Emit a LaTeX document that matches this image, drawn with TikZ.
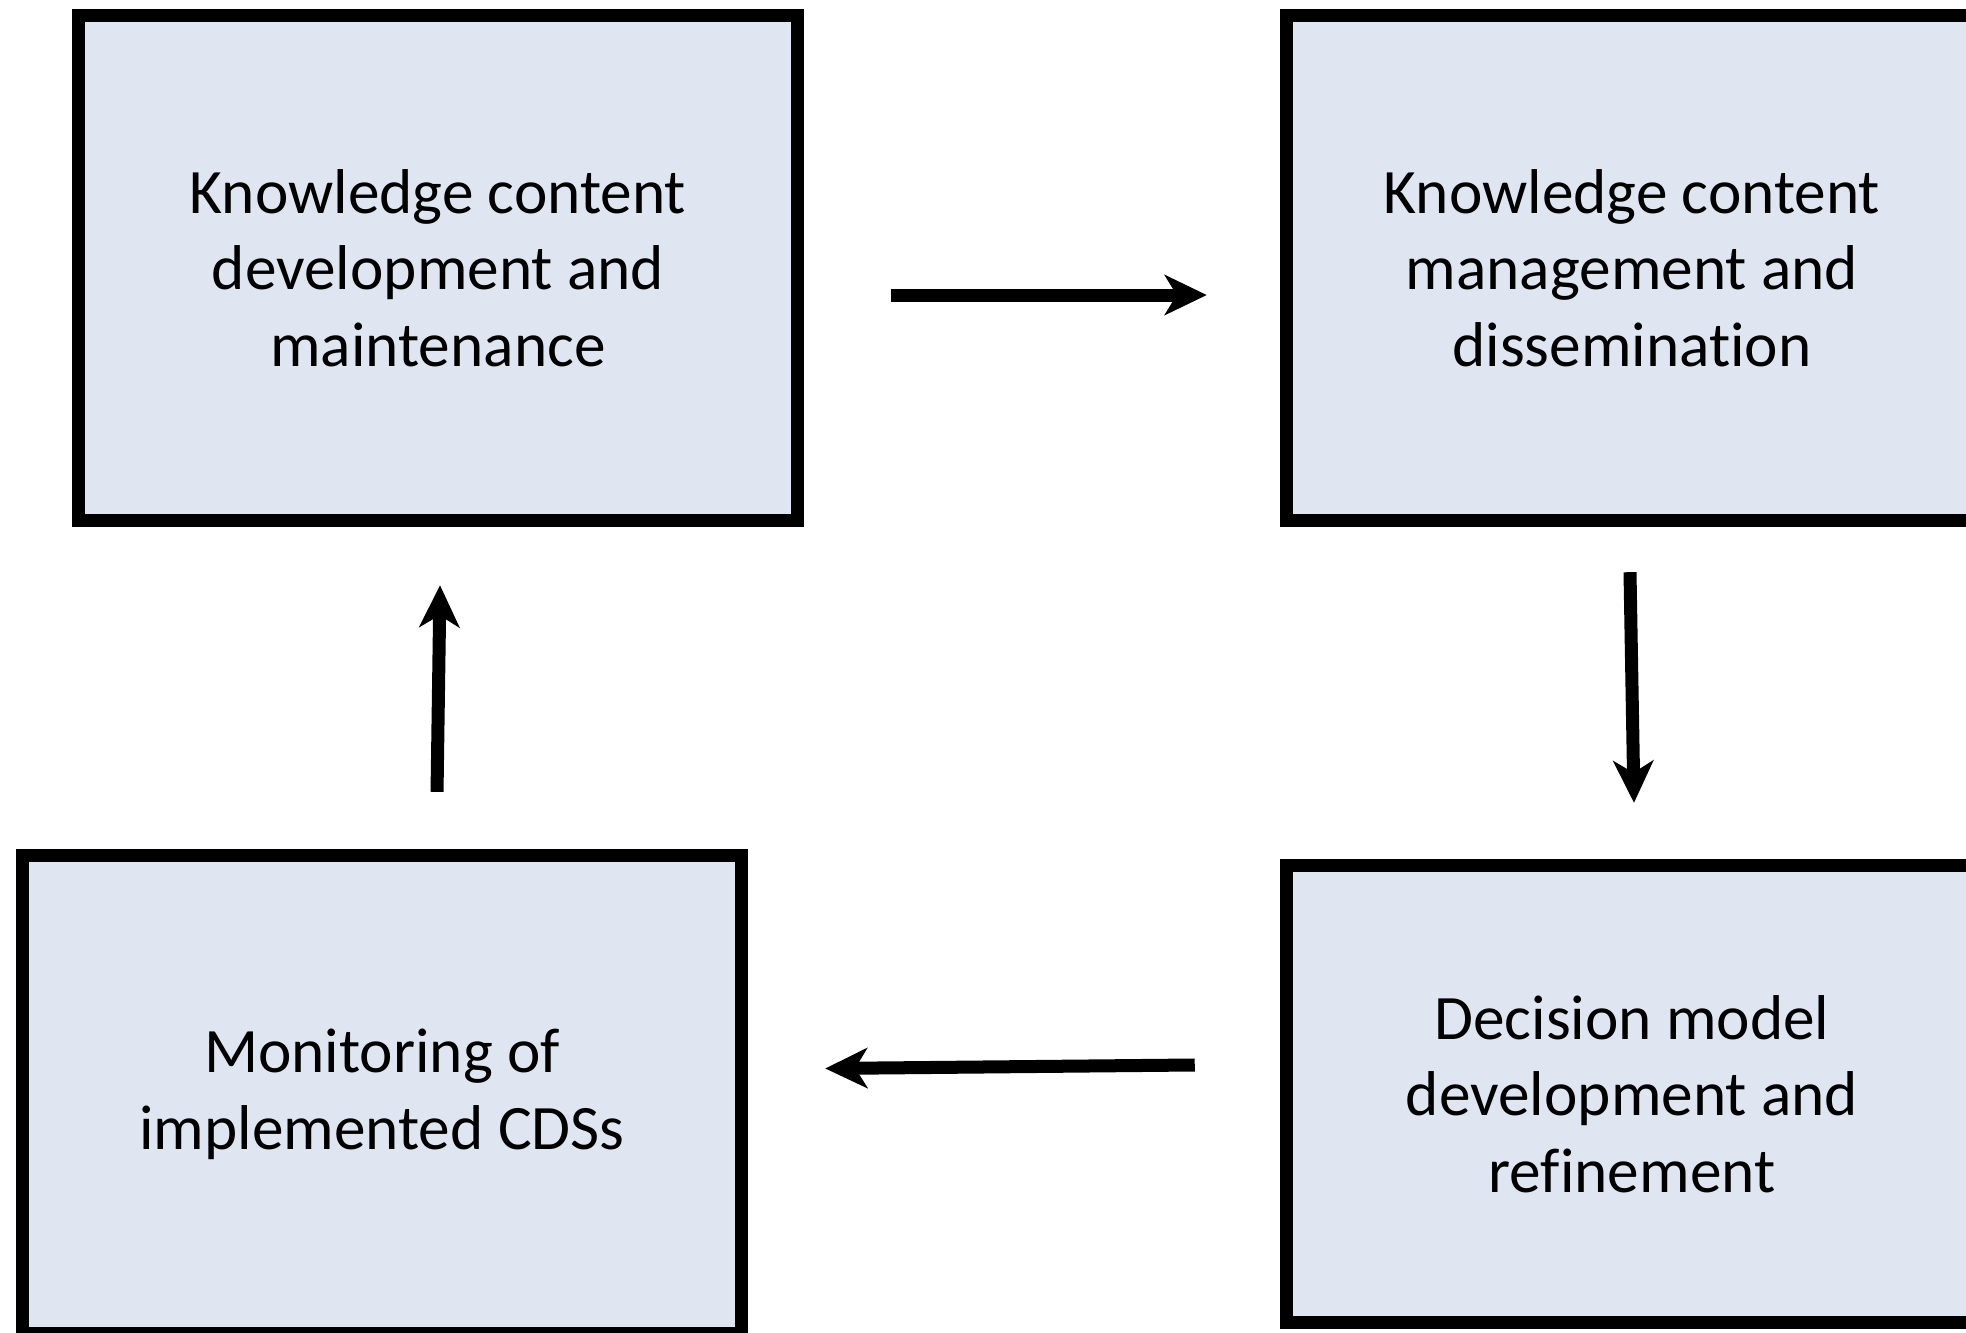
\documentclass[tikz,border=0pt]{standalone}
\usepackage{fontspec}
\setmainfont{Carlito}[Ligatures=NoCommon]
\usetikzlibrary{arrows.meta,positioning}
\definecolor{boxfill}{RGB}{223,230,241}
\tikzset{
	box/.style={draw,rectangle,align=center,fill=boxfill,line width=0.13cm,
		font=\fontsize{18}{21.8}\selectfont},
	flow/.style={line width=0.13cm,-{Stealth[length=0.42cm,width=0.40cm,inset=0.12cm]}}
}
\begin{document}
\begin{tikzpicture}[x=0.01cm,y=-0.01cm]
			\useasboundingbox (0,0) rectangle (1966,1333);
			\node[box,minimum width=7.19cm,minimum height=5.05cm] (dev) at (438,268) {Knowledge content\\development and\\maintenance};
			\node[box,minimum width=6.91cm,minimum height=5.05cm] (man) at (1632,268) {Knowledge content\\management and\\dissemination};
			\node[box,minimum width=6.91cm,minimum height=4.57cm] (dec) at (1632,1094) {Decision model\\development and\\refinement};
			\node[box,minimum width=7.19cm,minimum height=4.78cm] (mon) at (382,1094.5) {Monitoring of\\implemented CDSs};
			
			\draw[flow] ([xshift=0.87cm,yshift=-0.27cm]dev.east) -- ([xshift=-0.73cm,yshift=-0.27cm]man.west);
			\draw[flow] ([xshift=-0.02cm,yshift=-0.45cm]man.south) -- ([xshift=0.02cm,yshift=0.56cm]dec.north);
			\draw[flow] ([xshift=-0.85cm,yshift=0.29cm]dec.west) -- ([xshift=0.77cm,yshift=0.26cm]mon.east);
			\draw[flow] ([xshift=0.55cm,yshift=0.57cm]mon.north) -- ([xshift=0.02cm,yshift=-0.58cm]dev.south);
		\end{tikzpicture}
\end{document}
